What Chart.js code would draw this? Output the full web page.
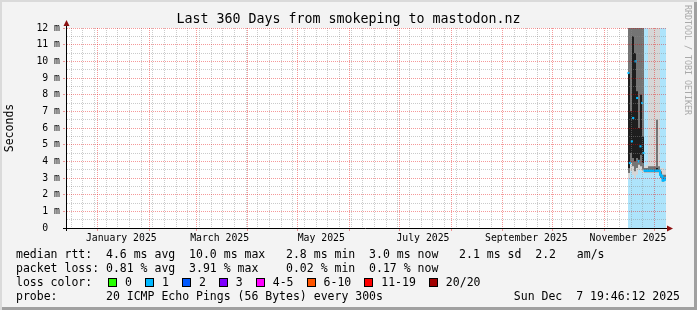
<!DOCTYPE html>
<html lang="en">
<head>
<meta charset="UTF-8">
<title>Last 360 Days from smokeping to mastodon.nz</title>
<script src="https://cdn.jsdelivr.net/npm/chart.js"></script>
<style>
  html, body { margin: 0; padding: 0; background: #fff; }
  #graph {
    position: relative;
    width: 697px;
    height: 310px;
    background: #f3f3f3;
    box-shadow: inset 2px 2px 0 #dadada, inset -3px -3px 0 #a0a0a0;
    font-family: "DejaVu Sans Mono", monospace;
    color: #000;
    overflow: hidden;
  }
  #chart { position: absolute; left: 0; top: 0; }
  .title {
    position: absolute; left: 0; top: 11px; width: 697px;
    text-align: center; font-size: 13.3px; line-height: 16px;
  }
  .legend {
    position: absolute; left: 16px; top: 247px;
    font-size: 11.5px; line-height: 14px;
  }
  .legend .row { position: relative; height: 14px; white-space: pre; }
  .keys { position: absolute; left: 92px; top: 0; display: flex; gap: 13px; }
  .key { display: flex; align-items: center; }
  .key i {
    display: inline-block; width: 7px; height: 7px;
    border: 1px solid #000; margin-right: 8px;
  }
  .stamp {
    position: absolute; right: 17px; top: 289px;
    font-size: 11.5px; line-height: 14px; white-space: pre;
  }
  .mark {
    position: absolute; left: 683px; top: 5px;
    writing-mode: vertical-rl; font-size: 8.3px; line-height: 10px;
    color: #a9a9a9; white-space: pre;
  }
</style>
</head>
<body>
<div id="graph">
  <canvas id="chart" width="697" height="250"></canvas>
  <div class="title">Last 360 Days from smokeping to mastodon.nz</div>
  <div class="mark">RRDTOOL / TOBI OETIKER</div>
  <div class="legend"><div class="row">median rtt:  4.6 ms avg  10.0 ms max   2.8 ms min  3.0 ms now   2.1 ms sd  2.2   am/s</div><div class="row">packet loss: 0.81 % avg  3.91 % max    0.02 % min  0.17 % now</div><div class="row">loss color:<div class="keys" id="keys"></div></div><div class="row">probe:       20 ICMP Echo Pings (56 Bytes) every 300s</div></div>
  <div class="stamp">Sun Dec  7 19:46:12 2025</div>
</div>

<script>
  // graph covers 360 days ending Sun Dec 7 19:46:12 2025; x values are days since start
  const yMax = 12;

  // smoke columns (days since start) and ping spread in ms
  const smokeDays = [337.8, 339.0, 340.2, 341.4, 342.6, 343.8, 345.0, 346.2, 347.4, 348.6,
                     349.8, 351.0, 352.2, 353.4, 354.6, 355.8, 357.0, 358.2, 359.4];
  const pingMin = [3.0, 3.4, 3.2, 3.0, 3.2, 3.5, 3.4, 3.3, 3.3, 3.3, 3.3, 3.3, 3.3, 3.3, 3.3, 3.3, 2.9, 2.7, 2.8];
  const pingP10 = [3.3, 3.9, 3.7, 3.4, 3.6, 3.8, 3.7, 3.5, 3.35, 3.35, 3.35, 3.35, 3.35, 3.35, 3.35, 3.35, 3.0, 2.8, 2.9];
  const pingP25 = [3.6, 4.5, 4.2, 4.0, 4.2, 4.1, 4.4, 3.9, 3.4, 3.4, 3.4, 3.4, 3.4, 3.4, 3.4, 3.4, 3.1, 2.85, 2.95];
  const pingP75 = [9.3, 7.0, 11.5, 10.5, 8.2, 6.0, 8.0, 5.5, 3.5, 3.5, 3.5, 3.5, 3.5, 3.5, 3.6, 3.5, 3.25, 3.0, 3.05];
  const pingP90 = [12.5, 12.5, 14, 15, 13, 12.5, 13, 12.5, 3.6, 3.6, 3.7, 3.7, 3.7, 3.7, 6.5, 3.7, 3.4, 3.2, 3.2];
  const pingMax = [15, 15, 16, 16, 15, 15, 15, 15, 3.7, 3.8, 14, 14, 14, 14, 14, 14, 3.6, 3.6, 3.5];
  const lostPings = [1, 1, 1, 1, 1, 1, 1, 1, 1, 1, 1, 1, 1, 1, 1, 1, 1, 1, 1];

  // median rtt
  const medianDays = [337.5, 338.3, 339.5, 340.3, 341.7, 342.7, 343.5, 344.7, 345.7, 346.5,
                      347.1, 348.9, 350.7, 352.5, 354.3, 356.1, 356.7, 357.6, 358.2, 359.1, 359.8];
  const medianMs = [9.3, 3.9, 5.2, 6.6, 10.0, 7.8, 4.0, 4.9, 7.5, 4.5,
                    3.44, 3.44, 3.44, 3.44, 3.44, 3.44, 3.2, 3.1, 2.85, 2.9, 3.0];

  // loss colour key
  const lossLabels = ['0', '1', '2', '3', '4-5', '6-10', '11-19', '20/20'];
  const lossColors = ['#26ff00', '#00b8ff', '#0059ff', '#7e00ff', '#ff00ff', '#ff5500', '#ff0000', '#a00000'];
  const lossBgColors = ['#d4ffc8', '#aee4fb', '#b3cdff', '#d6b8ff', '#ffc2ff', '#ffcfb8', '#ffc0c0', '#e6b8b8'];

  // x axis labels (15th of every other month)
  const xLabelMonths = [0, 2, 4, 6, 8, 10];
  const xTickLabels = ['January 2025', 'March 2025', 'May 2025', 'July 2025', 'September 2025', 'November 2025'];

  const GRID = 'rgba(140,140,140,0.45)';
  const MGRID = 'rgba(230,0,0,0.4)';
  const axisFont = { family: 'DejaVu Sans Mono', size: 9.8 };

  const start = Date.UTC(2024, 11, 12, 19, 46, 12);
  const dayOf = (y, m, d) => (Date.UTC(y, m, d) - start) / 86400000;

  // x ticks: weekly minor grid, monthly major grid, label positions
  const tickMap = new Map();
  function addTick(v, kind, label) {
    const k = v.toFixed(4);
    const t = tickMap.get(k) || { value: v, kind: null, label: '' };
    if (kind && t.kind !== 'month') t.kind = kind;
    if (label) t.label = label;
    tickMap.set(k, t);
  }
  for (let d = dayOf(2024, 11, 16); d < 360; d += 7) addTick(d, 'week');
  for (let m = 0; m < 12; m++) addTick(dayOf(2025, m, 1), 'month');
  xLabelMonths.forEach((m, i) => addTick(dayOf(2025, m, 15), null, xTickLabels[i]));
  const xTicks = [...tickMap.values()].sort((a, b) => a.value - b.value);

  const yTicks = [];
  for (let v = 0; v <= yMax; v += 0.5) yTicks.push(v);

  document.getElementById('keys').innerHTML = lossLabels
    .map((l, i) => '<span class="key"><i style="background:' + lossColors[i] + '"></i>' + l + '</span>')
    .join('');

  function band(lo, hi, color) {
    return {
      data: smokeDays.map((d, i) => ({ x: d, y: [lo[i], hi[i]] })),
      backgroundColor: color
    };
  }

  const plotBg = {
    id: 'plotBg',
    beforeDraw(chart) {
      const { ctx, chartArea: a } = chart;
      ctx.save();
      ctx.fillStyle = '#fff';
      ctx.fillRect(a.left, a.top, a.right - a.left, a.bottom - a.top);
      ctx.restore();
    }
  };

  // rrdtool style dotted grid, drawn over the smoke
  const dottedGrid = {
    id: 'dottedGrid',
    afterDatasetsDraw(chart) {
      const { ctx, chartArea: a, scales: { x, y } } = chart;
      const top = Math.round(a.top), bottom = Math.round(a.bottom);
      const left = Math.round(a.left), right = Math.round(a.right);
      ctx.save();
      xTicks.forEach(t => {
        if (!t.kind) return;
        const px = Math.floor(x.getPixelForValue(t.value));
        ctx.fillStyle = t.kind === 'month' ? MGRID : GRID;
        for (let py = top; py < bottom; py += 2) ctx.fillRect(px, py, 1, 1);
        if (t.kind === 'month') ctx.fillRect(px, bottom + 1, 1, 2);
      });
      yTicks.forEach(v => {
        if (v === 0) return;
        const py = Math.floor(y.getPixelForValue(v));
        ctx.fillStyle = Number.isInteger(v) ? MGRID : GRID;
        for (let px = left + 1; px < right; px += 2) ctx.fillRect(px, py, 1, 1);
        if (Number.isInteger(v)) ctx.fillRect(left - 3, py, 2, 1);
      });
      ctx.restore();
    }
  };

  const axisArrows = {
    id: 'axisArrows',
    afterDraw(chart) {
      const { ctx, chartArea: a } = chart;
      const x0 = Math.round(a.left) + 0.5, y0 = Math.round(a.bottom) + 0.5;
      ctx.save();
      ctx.strokeStyle = '#000';
      ctx.lineWidth = 1;
      ctx.beginPath();
      ctx.moveTo(x0, a.bottom + 3); ctx.lineTo(x0, a.top - 2);
      ctx.moveTo(a.left - 3, y0); ctx.lineTo(a.right + 2, y0);
      ctx.stroke();
      ctx.fillStyle = '#8c1010';
      ctx.beginPath();
      ctx.moveTo(x0 - 3, a.top - 2); ctx.lineTo(x0 + 3, a.top - 2); ctx.lineTo(x0, a.top - 8);
      ctx.closePath(); ctx.fill();
      ctx.beginPath();
      ctx.moveTo(a.right + 1, y0 - 3); ctx.lineTo(a.right + 1, y0 + 3); ctx.lineTo(a.right + 7, y0);
      ctx.closePath(); ctx.fill();
      ctx.restore();
    }
  };

  new Chart(document.getElementById('chart'), {
    type: 'bar',
    data: {
      datasets: [
        {
          type: 'line',
          data: medianDays.map((d, i) => ({ x: d, y: medianMs[i] })),
          borderColor: lossColors[1],
          borderWidth: 2,
          stepped: 'middle',
          pointStyle: 'rect',
          pointRadius: 1.5,
          pointBorderWidth: 0,
          pointBackgroundColor: lossColors[1],
          segment: {
            borderColor: c => Math.abs(c.p0.parsed.y - c.p1.parsed.y) > 0.5 ? 'transparent' : lossColors[1]
          }
        },
        band(pingP25, pingP75, '#1e1e1e'),
        band(pingP10, pingP90, '#747474'),
        band(pingMin, pingMax, '#d6d6d6'),
        {
          data: smokeDays.map(d => ({ x: d, y: [0, yMax] })),
          backgroundColor: lostPings.map(n => lossBgColors[n])
        }
      ]
    },
    options: {
      responsive: false,
      animation: false,
      events: [],
      layout: { padding: { left: 0, top: 28, right: 31, bottom: 0 } },
      plugins: { legend: { display: false }, tooltip: { enabled: false } },
      datasets: {
        bar: { grouped: false, barThickness: 2, borderWidth: 0, inflateAmount: 0 }
      },
      scales: {
        x: {
          type: 'linear', min: 0, max: 360, offset: false,
          afterBuildTicks: s => { s.ticks = xTicks.map(t => ({ value: t.value })); },
          afterFit: s => { s.height = 22; },
          ticks: {
            autoSkip: false, maxRotation: 0, minRotation: 0, padding: 5,
            font: axisFont, color: '#000',
            callback: (v, i) => xTicks[i] ? xTicks[i].label : ''
          },
          grid: { display: false, drawTicks: false, offset: false },
          border: { display: false }
        },
        y: {
          min: 0, max: yMax,
          afterBuildTicks: s => { s.ticks = yTicks.map(v => ({ value: v })); },
          afterFit: s => { s.width = 66; },
          ticks: {
            autoSkip: false, padding: 6, font: axisFont, color: '#000',
            callback: v => v === 0 ? '0  ' : (Number.isInteger(v) ? v + ' m' : '')
          },
          grid: { display: false, drawTicks: false },
          border: { display: false },
          title: {
            display: true, text: 'Seconds', color: '#000',
            font: { family: 'DejaVu Sans Mono', size: 11.5 },
            padding: { top: 3, bottom: 0 }
          }
        }
      }
    },
    plugins: [plotBg, dottedGrid, axisArrows]
  });
</script>
</body>
</html>
